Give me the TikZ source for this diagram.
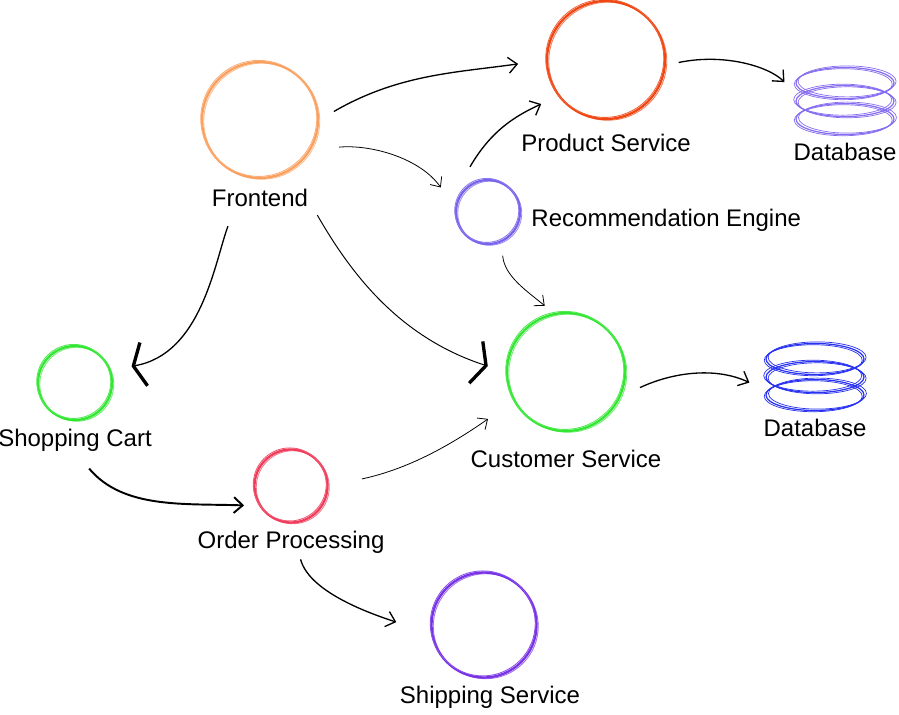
\documentclass[tikz,border=0pt]{standalone}
\usepackage{fontspec}
\setmainfont{Liberation Sans}
\usepackage{xcolor}
\usetikzlibrary{positioning, arrows.meta, shapes.geometric}

\definecolor{feorange}{RGB}{250,160,95}
\definecolor{psred}{RGB}{240,70,20}
\definecolor{dbviolet}{RGB}{135,110,240}
\definecolor{reviolet}{RGB}{120,100,235}
\definecolor{csgreen}{RGB}{50,230,50}
\definecolor{dbblue}{RGB}{40,50,240}
\definecolor{opred}{RGB}{240,60,90}
\definecolor{sspurple}{RGB}{120,50,230}

\begin{document}
\begin{tikzpicture}[
    node distance=0.15cm,
    ring/.style={circle, draw=#1, line width=1.3pt, inner sep=0pt,
      preaction={draw=#1!70, line width=0.5pt,
        transform canvas={shift={(1pt,-0.7pt)}}},
      postaction={draw=#1!85, line width=0.5pt,
        transform canvas={shift={(-0.7pt,0.9pt)}}}},
    dbstack/.style={ellipse, draw=#1, line width=0.7pt, inner sep=0pt,
      minimum width=1.96cm, minimum height=0.62cm,
      postaction={draw=#1, line width=0.4pt, transform canvas={shift={(1.4pt,0.8pt)}}},
      postaction={draw=#1, line width=0.4pt, transform canvas={shift={(-1pt,-0.7pt)}}},
      postaction={draw=#1, line width=0.7pt, transform canvas={yshift=10.2pt}},
      postaction={draw=#1, line width=0.4pt, transform canvas={shift={(-1.3pt,11pt)}}},
      postaction={draw=#1, line width=0.4pt, transform canvas={shift={(1.2pt,9.5pt)}}},
      postaction={draw=#1, line width=0.7pt, transform canvas={yshift=20.5pt}},
      postaction={draw=#1, line width=0.4pt, transform canvas={shift={(1.2pt,21.4pt)}}},
      postaction={draw=#1, line width=0.4pt, transform canvas={shift={(-1pt,19.8pt)}}}},
    lbl/.style={inner sep=0pt, font=\fontsize{13.66pt}{16pt}\selectfont},
    link/.style={-{Straight Barb[length=5pt, width=9pt]}, line width=0.75pt},
    thinlink/.style={-{Straight Barb[length=4.5pt, width=8pt]}, line width=0.45pt},
    heavyhead/.style={-{Straight Barb[length=6pt, width=25pt, line width=1.9pt]},
      line width=0.55pt},
  ]
  \useasboundingbox (0,0) rectangle (17.98,14.28);

  % services
  \node[ring=feorange, minimum size=2.32cm] (fe) at (5.20,11.88) {};
  \node[ring=psred, minimum size=2.36cm]    (ps) at (12.12,13.08) {};
  \node[ring=reviolet, minimum size=1.28cm] (re) at (9.76,10.04) {};
  \node[ring=csgreen, minimum size=2.36cm]  (cs) at (11.32,6.84) {};
  \node[ring=csgreen, minimum size=1.48cm]  (sc) at (1.50,6.62) {};
  \node[ring=opred, minimum size=1.46cm]    (op) at (5.82,4.56) {};
  \node[ring=sspurple, minimum size=2.10cm] (ss) at (9.68,1.78) {};

  % data stores
  \node[dbstack=dbviolet] (db1) at (16.90,11.90) {};
  \node[dbstack=dbblue]   (db2) at (16.30,6.38) {};

  \node[lbl, below=0.2cm of fe]  (fe-lbl)  {Frontend};
  \node[lbl, below=0.28cm of ps] (ps-lbl)  {Product Service};
  \node[lbl, right=0.2cm of re, yshift=-0.16cm] (re-lbl) {Recommendation Engine};
  \node[lbl, below=0.36cm of cs] (cs-lbl)  {Customer Service};
  \node[lbl, below=of sc]        (sc-lbl)  {Shopping Cart};
  \node[lbl, below=of op]        (op-lbl)  {Order Processing};
  \node[lbl, below=of ss, xshift=0.12cm] (ss-lbl) {Shipping Service};
  \node[lbl, below=of db1]       (db1-lbl) {Database};
  \node[lbl, below=of db2]       (db2-lbl) {Database};

  \draw[link, shorten <=0.34cm, shorten >=0.56cm]
    (fe.east) to[out=30, in=188] (ps.west);
  \draw[thinlink, shorten <=0.56cm, shorten >=0.5cm]
    (fe.-30) to[out=5, in=125] (re.173);
  \draw[heavyhead, line width=0.75pt, shorten <=1.04cm, shorten >=0.42cm]
    (fe.256) to[out=250, in=10] (sc.20);
  \draw[heavyhead, shorten <=1.04cm, shorten >=0.38cm]
    (fe.-58) to[out=-60, in=162] (cs.west);
  \draw[link, shorten >=0.37cm]
    ([shift={(-0.36,0.24)}]re.north) to[out=60, in=205] (ps.217);
  \draw[thinlink, shorten <=0.27cm, shorten >=0.23cm]
    (re.-66) to[out=-85, in=140] (cs.102);
  \draw[link, shorten <=0.26cm, shorten >=0.72cm]
    (ps.-5) to[out=12, in=135] (db1.north west);
  \draw[link, shorten <=0.42cm, shorten >=0.39cm]
    (cs.-24) to[out=25, in=155] (db2.175);
  \draw[link, line width=1.1pt, shorten <=0.44cm, shorten >=0.3cm]
    (sc-lbl.south) to[out=-50, in=178] (op.212);
  \draw[thinlink, shorten <=0.68cm, shorten >=0.62cm]
    (op.east) to[out=12, in=215] (cs.209);
  \draw[link, shorten <=0.74cm, shorten >=0.73cm]
    (op.south) to[out=285, in=162] (ss.189);

\end{tikzpicture}
\end{document}
